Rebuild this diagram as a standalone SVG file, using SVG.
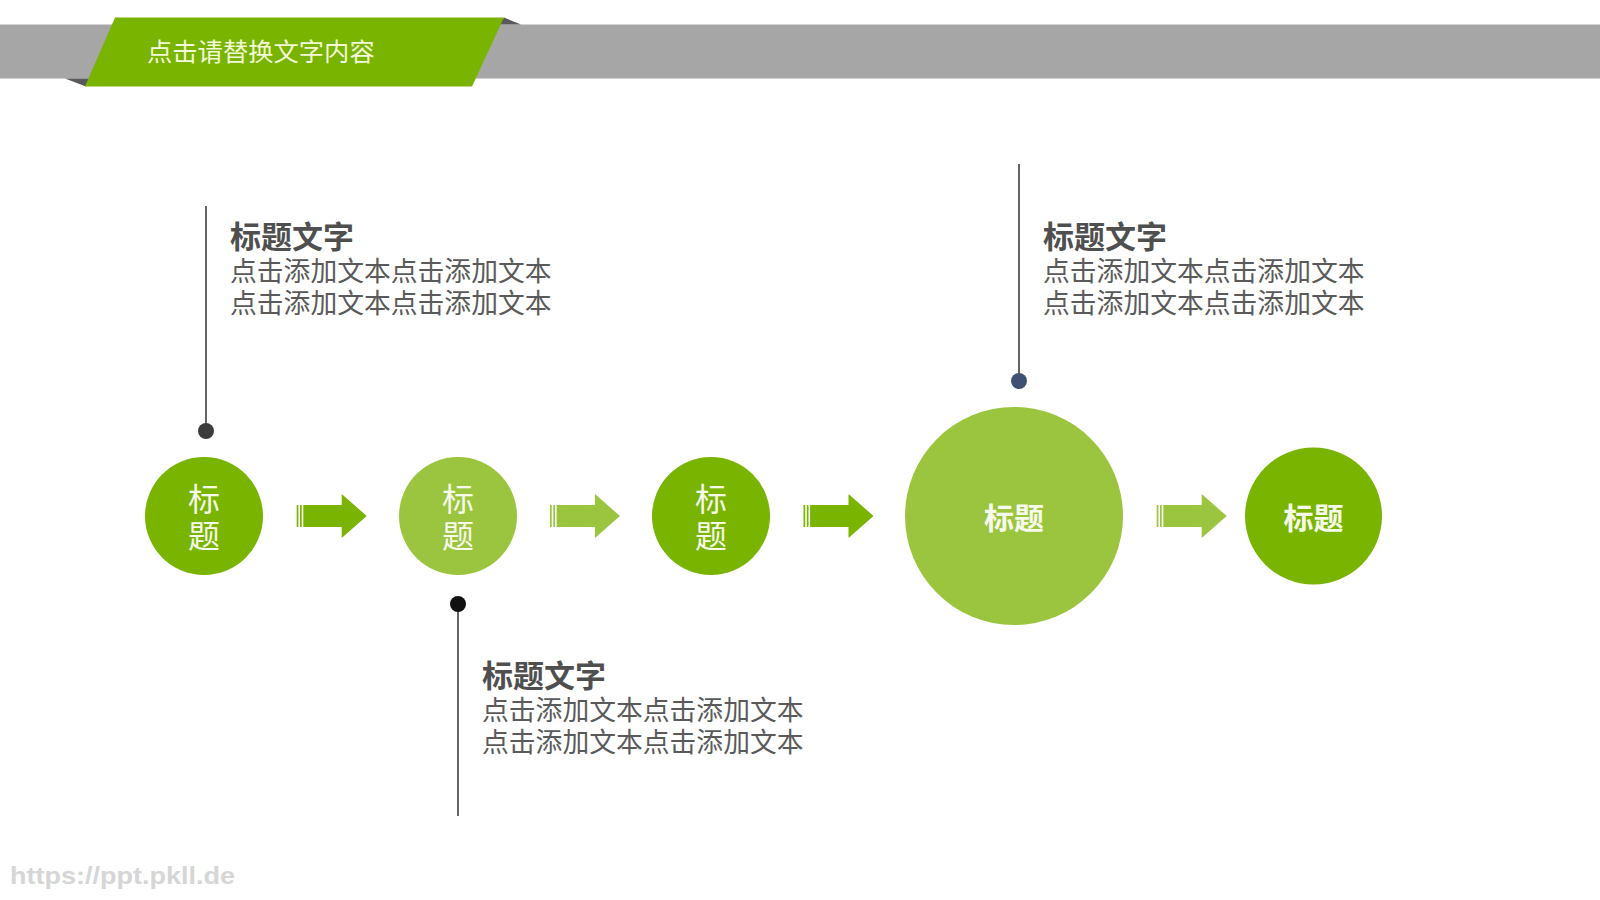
<svg xmlns="http://www.w3.org/2000/svg" xmlns:xlink="http://www.w3.org/1999/xlink" width="1600" height="900" viewBox="0 0 1600 900">
<defs>
<style>
.cjk{font-family:"Noto Sans CJK SC","Noto Sans",sans-serif;}
.dk{fill:#78b400;}
.lt{fill:#9bc53f;}
.ctext{fill:#f6faea;font-size:32px;text-anchor:middle;}
.cbold{fill:#f6faea;font-size:30px;font-weight:bold;text-anchor:middle;}
.ttl{fill:#4f4f4f;font-size:31px;font-weight:bold;}
.body{fill:#5a5a5a;font-size:26.8px;}
.lead{stroke:#3f3f3f;stroke-width:1.6;fill:none;}
</style>
<g id="arrowShape">
<rect x="0" y="505" width="1.7" height="22"/>
<rect x="3.3" y="505" width="1.7" height="22"/>
<polygon points="6.6,505 45,505 45,494 70,516 45,538 45,527 6.6,527"/>
</g>
</defs>
<rect width="1600" height="900" fill="#ffffff"/>

<g id="header">
<rect x="0" y="24.5" width="1600" height="54" fill="#a6a6a6"/>
<polygon points="504,17.5 521,24.5 499,24.5" fill="#595959"/>
<polygon points="65,78.5 89,78.5 86,86.5" fill="#595959"/>
<polygon points="115,17.5 504,17.5 472,86.5 85,86.5" fill="#78b400"/>
<text class="cjk" x="147" y="61" font-size="25.3" fill="#f3f8d8">点击请替换文字内容</text>
</g>

<g id="connectors">
<use xlink:href="#arrowShape" href="#arrowShape" class="dk" transform="translate(296.7,0)"/>
<use xlink:href="#arrowShape" href="#arrowShape" class="lt" transform="translate(550,0)"/>
<use xlink:href="#arrowShape" href="#arrowShape" class="dk" transform="translate(803.5,0)"/>
<use xlink:href="#arrowShape" href="#arrowShape" class="lt" transform="translate(1156.7,0)"/>
<line class="lead" x1="206" y1="206" x2="206" y2="431"/>
<line class="lead" x1="458" y1="604" x2="458" y2="816"/>
<line class="lead" x1="1019" y1="164" x2="1019" y2="381"/>
</g>

<g id="node1">
<circle class="dk" cx="204" cy="516" r="59"/>
<text class="cjk ctext" x="204" y="511">标<tspan x="204" y="548">题</tspan></text>
</g>
<g id="node2">
<circle class="lt" cx="458" cy="516" r="59"/>
<text class="cjk ctext" x="458" y="511">标<tspan x="458" y="548">题</tspan></text>
</g>
<g id="node3">
<circle class="dk" cx="711" cy="516" r="59"/>
<text class="cjk ctext" x="711" y="511">标<tspan x="711" y="548">题</tspan></text>
</g>
<g id="node4">
<circle class="lt" cx="1014" cy="516" r="109"/>
<text class="cjk cbold" x="1014" y="529">标题</text>
</g>
<g id="node5">
<circle class="dk" cx="1313.5" cy="516" r="68.5"/>
<text class="cjk cbold" x="1313.5" y="529">标题</text>
</g>

<g id="callout1">
<circle cx="206" cy="431" r="8" fill="#3c3c3c"/>
<text class="cjk ttl" x="230" y="248">标题文字</text>
<text class="cjk body" x="230" y="281">点击添加文本点击添加文本</text>
<text class="cjk body" x="230" y="313">点击添加文本点击添加文本</text>
</g>
<g id="callout2">
<circle cx="458" cy="604" r="8" fill="#111111"/>
<text class="cjk ttl" x="482" y="687">标题文字</text>
<text class="cjk body" x="482" y="720">点击添加文本点击添加文本</text>
<text class="cjk body" x="482" y="752">点击添加文本点击添加文本</text>
</g>
<g id="callout3">
<circle cx="1019" cy="381" r="8" fill="#3f5173"/>
<text class="cjk ttl" x="1043" y="248">标题文字</text>
<text class="cjk body" x="1043" y="281">点击添加文本点击添加文本</text>
<text class="cjk body" x="1043" y="313">点击添加文本点击添加文本</text>
</g>

<text x="10" y="884" font-family="Liberation Sans, Arial, sans-serif" font-weight="bold" font-size="24" fill="#d6d6d6" textLength="225" lengthAdjust="spacingAndGlyphs">https://ppt.pkll.de</text>
</svg>
